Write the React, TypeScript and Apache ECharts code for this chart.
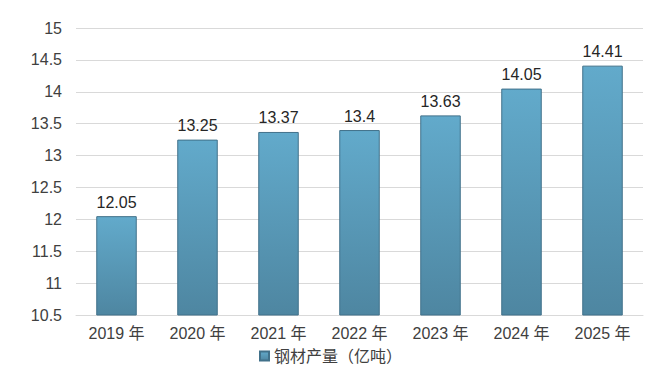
import React, { useEffect, useRef } from "react";
import * as echarts from "echarts";

const categories = ["2019 年", "2020 年", "2021 年", "2022 年", "2023 年", "2024 年", "2025 年"];
const values = [12.05, 13.25, 13.37, 13.4, 13.63, 14.05, 14.41];
const seriesName = "钢材产量（亿吨）";

const FONT = "'Liberation Sans', Arial, 'Noto Sans CJK SC', sans-serif";

export default function App() {
  const ref = useRef<HTMLDivElement>(null);
  useEffect(() => {
    if (!ref.current) return;
    const chart = echarts.init(ref.current, undefined, { renderer: "svg" });
    chart.setOption({
      animation: false,
      backgroundColor: "#ffffff",
      textStyle: { fontFamily: FONT },
      grid: { left: 76, right: 17, top: 28, bottom: 71 },
      legend: {
        data: [seriesName],
        left: 254,
        top: 343,
        icon: "rect",
        itemWidth: 9,
        itemHeight: 9,
        itemGap: 4,
        textStyle: { fontSize: 16, color: "#404040", fontFamily: FONT },
      },
      xAxis: {
        type: "category",
        data: categories,
        axisLine: { show: true, lineStyle: { color: "#d9d9d9" } },
        axisTick: { show: false },
        axisLabel: { fontSize: 16, color: "#404040", margin: 10, fontFamily: FONT },
      },
      yAxis: {
        type: "value",
        min: 10.5,
        max: 15,
        interval: 0.5,
        axisLine: { show: false },
        axisTick: { show: false },
        splitLine: { lineStyle: { color: "#d9d9d9" } },
        axisLabel: { fontSize: 16, color: "#404040", margin: 14, fontFamily: FONT },
      },
      series: [
        {
          name: seriesName,
          type: "bar",
          data: values,
          barWidth: "50%",
          itemStyle: {
            color: new echarts.graphic.LinearGradient(0, 0, 0, 1, [
              { offset: 0, color: "#62aacb" },
              { offset: 1, color: "#4e86a1" },
            ]),
            borderColor: "#41718a",
            borderWidth: 1,
          },
          label: {
            show: true,
            position: "top",
            distance: 6,
            fontSize: 16,
            color: "#262626",
            fontFamily: FONT,
          },
        },
      ],
    });
    return () => chart.dispose();
  }, []);
  return <div ref={ref} style={{ width: 660, height: 386, position: "absolute", left: 0, top: 0 }} />;
}
